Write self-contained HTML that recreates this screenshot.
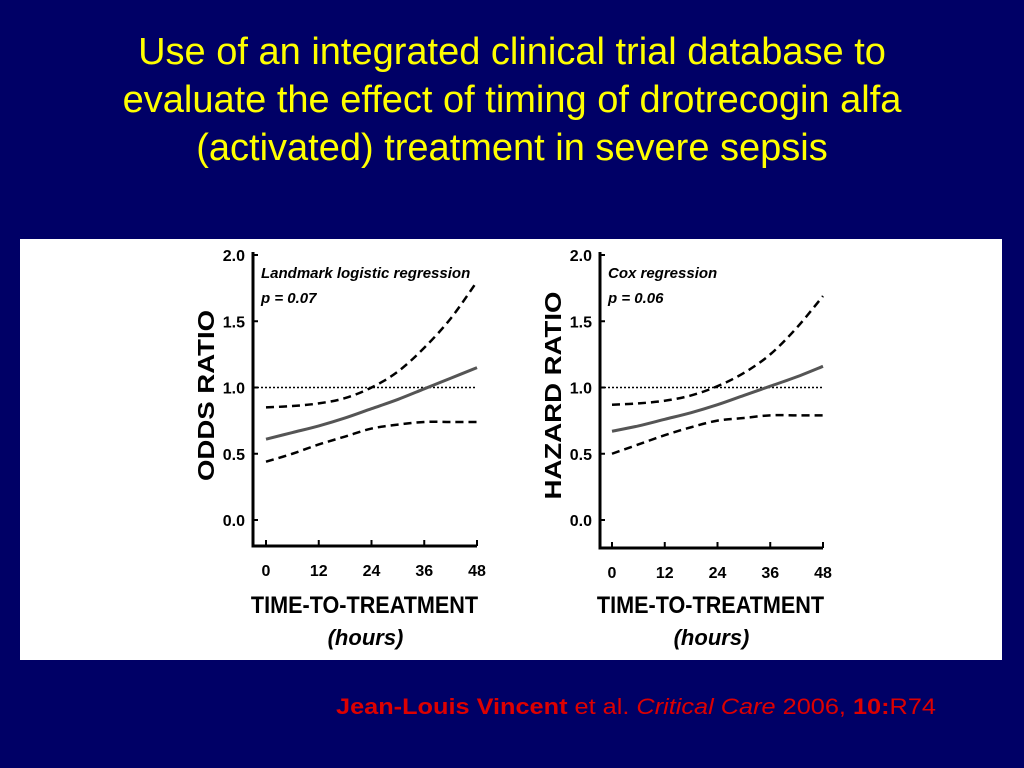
<!DOCTYPE html>
<html><head><meta charset="utf-8"><style>
body{margin:0;width:1024px;height:768px;background:#000066;overflow:hidden;font-family:"Liberation Sans",sans-serif}
.title{position:absolute;left:0;top:28px;width:1024px;text-align:center;color:#ffff00;font-size:38px;line-height:48px}
.panel{position:absolute;left:20px;top:239px;width:982px;height:421px;background:#fff}
.cite{position:absolute;left:336px;top:694px;color:#dd0000;font-size:22px;transform:scale(1.15,1);transform-origin:0 0;white-space:nowrap}
</style></head><body>
<div class="title">Use of an integrated clinical trial database to<br>evaluate the effect of timing of drotrecogin alfa<br>(activated) treatment in severe sepsis</div>
<div class="panel"></div>
<svg id="chart" width="1024" height="768" style="position:absolute;left:0;top:0"></svg>
<div class="cite"><b>Jean-Louis Vincent</b> et al. <i>Critical Care</i> 2006, <b>10:</b>R74</div>
<script>
const hours=[0,6,12,18,24,30,36,42,48];
const xTicks=[0,12,24,36,48];
const yTicks=[0.0,0.5,1.0,1.5,2.0];
const leftLower=[0.44,0.50,0.57,0.63,0.69,0.72,0.74,0.74,0.74];
const leftCenter=[0.61,0.66,0.71,0.77,0.84,0.91,0.99,1.07,1.15];
const leftUpper=[0.85,0.86,0.88,0.92,1.00,1.12,1.30,1.52,1.80];
const rightLower=[0.50,0.57,0.64,0.70,0.75,0.77,0.79,0.79,0.79];
const rightCenter=[0.67,0.71,0.76,0.81,0.87,0.94,1.01,1.08,1.16];
const rightUpper=[0.87,0.88,0.90,0.94,1.01,1.11,1.25,1.45,1.69];
const svg=document.getElementById('chart');
const NS='http://www.w3.org/2000/svg';
function mk(tag,a){const e=document.createElementNS(NS,tag);for(const k in a)e.setAttribute(k,a[k]);svg.appendChild(e);return e;}
function smooth(pts){let d='M'+pts[0][0]+','+pts[0][1];for(let i=0;i<pts.length-1;i++){const p0=pts[Math.max(i-1,0)],p1=pts[i],p2=pts[i+1],p3=pts[Math.min(i+2,pts.length-1)];d+=' C'+(p1[0]+(p2[0]-p0[0])/6)+','+(p1[1]+(p2[1]-p0[1])/6)+' '+(p2[0]-(p3[0]-p1[0])/6)+','+(p2[1]-(p3[1]-p1[1])/6)+' '+p2[0]+','+p2[1];}return d;}
function chart(o){
  const X=h=>o.x0+(h/48)*(o.x1-o.x0);
  const Y=v=>o.y0-(v/2)*(o.y0-o.y2);
  let e;
  e=mk('path',{d:`M${o.ax},${o.y2-3} V${o.axY} H${X(48)}`,fill:'none',stroke:'#000','stroke-width':3});
  
  yTicks.forEach(v=>{mk('line',{x1:o.ax,x2:o.ax+5,y1:Y(v),y2:Y(v),stroke:'#000','stroke-width':2});
    e=mk('text',{x:o.ax-8,y:Y(v)+6,'text-anchor':'end','font-size':16,'font-weight':'bold'});e.textContent=v.toFixed(1);
    });
  xTicks.forEach(h=>{mk('line',{x1:X(h),x2:X(h),y1:o.axY,y2:o.axY-6,stroke:'#000','stroke-width':2});
    e=mk('text',{x:X(h),y:o.axY+30,'text-anchor':'middle','font-size':16,'font-weight':'bold'});e.textContent=h;
    });
  e=mk('line',{x1:o.ax,x2:X(48),y1:Y(1),y2:Y(1),stroke:'#000','stroke-width':1.5,'stroke-dasharray':'2,2'});
  
  const ser=[[o.lo,'lower-ci',true],[o.up,'upper-ci',true],[o.c,'estimate',false]];
  ser.forEach(s=>{const pts=hours.map((h,i)=>[X(h),Y(s[0][i])]);
    e=mk('path',{d:smooth(pts),fill:'none',stroke:s[2]?'#000':'#555','stroke-width':s[2]?2.5:3,'stroke-dasharray':s[2]?'8,5':'none'});
    });
  e=mk('text',{x:0,y:0,transform:`translate(${o.ylx},${(Y(0)+Y(2))/2+8}) rotate(-90) scale(1.2,1)`,'text-anchor':'middle','font-size':23,'font-weight':'bold'});e.textContent=o.ylabel;
  
  const cx=(X(0)+X(48))/2-7;
  e=mk('text',{x:0,y:0,'text-anchor':'middle','font-size':24,'font-weight':'bold',transform:`translate(${cx},613) scale(0.9,1)`});e.textContent='TIME-TO-TREATMENT';
  
  e=mk('text',{x:cx+1,y:645,'text-anchor':'middle','font-size':22,'font-weight':'bold','font-style':'italic'});e.textContent='(hours)';
  
  e=mk('text',{x:o.ax+8,y:278,'font-size':15,'font-weight':'bold','font-style':'italic'});e.textContent=o.method;
  
  e=mk('text',{x:o.ax+8,y:303,'font-size':15,'font-weight':'bold','font-style':'italic'});e.textContent=o.p;
  
}
chart({id:'odds-chart',ax:253,axY:546,x0:266,x1:477,y0:520,y2:255,lo:leftLower,c:leftCenter,up:leftUpper,ylabel:'ODDS RATIO',ylx:214,method:'Landmark logistic regression',p:'p = 0.07'});
chart({id:'hazard-chart',ax:600,axY:548,x0:612,x1:823,y0:520,y2:255,lo:rightLower,c:rightCenter,up:rightUpper,ylabel:'HAZARD RATIO',ylx:561,method:'Cox regression',p:'p = 0.06'});
</script>
</body></html>
